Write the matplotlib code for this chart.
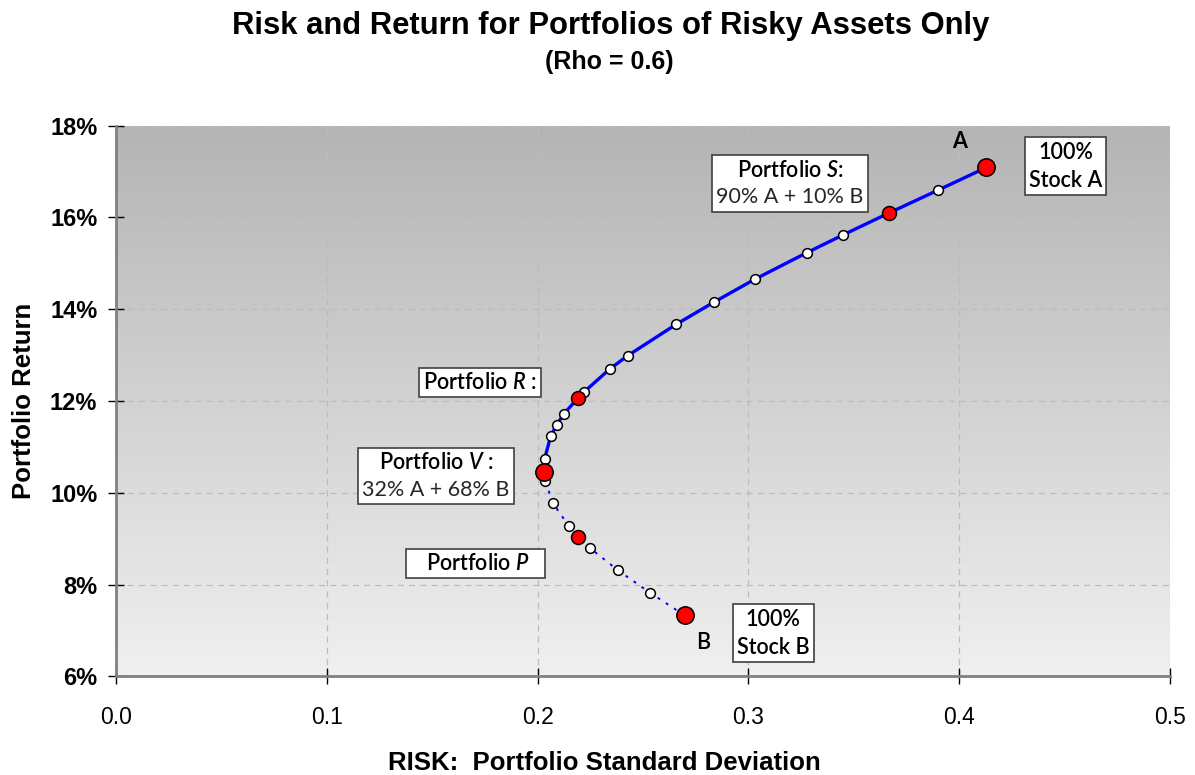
import numpy as np
import matplotlib.pyplot as plt
from matplotlib.colors import LinearSegmentedColormap
from matplotlib.offsetbox import TextArea, VPacker, AnnotationBbox
from matplotlib.ticker import FuncFormatter

plt.rcParams['mathtext.fontset'] = 'custom'
plt.rcParams['mathtext.it'] = 'Lato:italic:semibold'
plt.rcParams['mathtext.rm'] = 'Lato'

# white points on the efficient part (above V)
upper_sd = [0.2033, 0.2062, 0.2090, 0.2125, 0.2221, 0.2343, 0.2428, 0.2657,
            0.2835, 0.3029, 0.3276, 0.3449, 0.3897]
upper_ret = [10.74, 11.23, 11.48, 11.72, 12.20, 12.70, 12.99, 13.67,
             14.15, 14.65, 15.23, 15.62, 16.59]
# white points below V
lower_sd = [0.2533, 0.2381, 0.2247, 0.2147, 0.2073, 0.2036]
lower_ret = [7.82, 8.31, 8.80, 9.28, 9.77, 10.26]

# named portfolios (red)
key_names = ['A', 'S', 'R', 'V', 'P', 'B']
key_sd = [0.4129, 0.3668, 0.2190, 0.2030, 0.2193, 0.2697]
key_ret = [17.09, 16.10, 12.06, 10.46, 9.04, 7.33]
key_big = [True, False, False, True, False, True]

v_sd, v_ret = key_sd[3], key_ret[3]

fig = plt.figure(figsize=(11.95, 7.75), dpi=100)
ax = fig.add_axes([0.0971, 0.1274, 0.8820, 0.7104])

# background gradient
cmap = LinearSegmentedColormap.from_list('bg', ['#f0f0f0', '#b4b4b4'])
ax.imshow(np.linspace(0, 1, 256).reshape(-1, 1), cmap=cmap, origin='lower',
          extent=[0, 1, 0, 1], transform=ax.transAxes, aspect='auto', zorder=0)

# efficient frontier: V -> S,R,A plus white points
up_x = np.array(upper_sd + [v_sd, key_sd[0], key_sd[1], key_sd[2]])
up_y = np.array(upper_ret + [v_ret, key_ret[0], key_ret[1], key_ret[2]])
o = np.argsort(up_y)
ax.plot(up_x[o], up_y[o], color='#0000ff', lw=2.4, zorder=3)

lo_x = np.array(lower_sd + [v_sd, key_sd[4], key_sd[5]])
lo_y = np.array(lower_ret + [v_ret, key_ret[4], key_ret[5]])
o = np.argsort(lo_y)
ax.plot(lo_x[o], lo_y[o], color='#0000ff', lw=1.4, ls=(0, (1.5, 3.5)), zorder=3)

ax.plot(upper_sd + lower_sd, upper_ret + lower_ret, 'o', ms=7, mfc='white',
        mec='black', mew=1.1, ls='none', zorder=4)
for sd, r, big in zip(key_sd, key_ret, key_big):
    ax.plot(sd, r, 'o', ms=12.5 if big else 10, mfc='#ff0000', mec='black',
            mew=1.1, zorder=5)

ax.set_xlim(0, 0.5)
ax.set_ylim(6, 18)
ax.set_xticks(np.arange(0, 0.51, 0.1))
ax.set_yticks(np.arange(6, 18.1, 2))
ax.yaxis.set_major_formatter(FuncFormatter(lambda v, p: '%d%%' % v))
ax.xaxis.set_major_formatter(FuncFormatter(lambda v, p: '%.1f' % v))
ax.grid(True, color='#bcbcbc', ls=(0, (5, 4)), lw=0.9, zorder=1)
for s in ['top', 'right']:
    ax.spines[s].set_visible(False)
for s in ['left', 'bottom']:
    ax.spines[s].set_color('#808080')
    ax.spines[s].set_linewidth(2)
    ax.spines[s].set_zorder(2)
ax.tick_params(direction='inout', length=11, width=1, color='black')
ax.tick_params(axis='x', pad=16)
ax.tick_params(axis='y', pad=8)
for t in ax.get_xticklabels():
    t.set_family('Liberation Sans')
    t.set_fontsize(16.5)
for t in ax.get_yticklabels():
    t.set_family('Liberation Sans')
    t.set_fontsize(17)
    t.set_fontweight('bold')

ax.set_xlabel('RISK:  Portfolio Standard Deviation', family='Liberation Sans',
              fontsize=18.5, fontweight='bold', labelpad=12)
ax.xaxis.set_label_coords(0.463, -0.135)
ax.set_ylabel('Portfolio Return', family='Liberation Sans', fontsize=18.5,
              fontweight='bold', labelpad=10)

fig.text(0.511, 0.967, 'Risk and Return for Portfolios of Risky Assets Only',
         ha='center', va='center', family='Liberation Sans', fontsize=22.3,
         fontweight='bold')
fig.text(0.51, 0.92, '(Rho = 0.6)', ha='center', va='center',
         family='Liberation Sans', fontsize=18, fontweight='bold')

main_font = dict(family='Lato', fontsize=15.5, color='black',
                 fontweight='semibold')
sub_font = dict(family='Lato', fontsize=15.5, color='#262626')


def label_box(lines, x, y, styles):
    areas = [TextArea(t, textprops=s) for t, s in zip(lines, styles)]
    pack = VPacker(children=areas, align='center', pad=0, sep=5)
    ab = AnnotationBbox(pack, (x, y), xycoords='data', frameon=True, pad=0.3,
                        box_alignment=(0.5, 0.5),
                        bboxprops=dict(edgecolor='#404040', lw=1.2,
                                       facecolor='white'), zorder=6)
    ax.add_artist(ab)


label_box(['Portfolio $S$:', '90% A + 10% B'], 0.3197, 16.74,
          [main_font, sub_font])
label_box(['100%', 'Stock A'], 0.4504, 17.12, [main_font, main_font])
label_box(['Portfolio $R$ :'], 0.1726, 12.41, [main_font])
label_box(['Portfolio $V$ :', '32% A + 68% B'], 0.1518, 10.37,
          [main_font, sub_font])
label_box(['   Portfolio $P$   '], 0.1704, 8.46, [main_font])
label_box(['100%', 'Stock B'], 0.3117, 6.94, [main_font, main_font])

ax.text(0.400, 17.65, 'A', ha='center', va='center', family='Lato',
        fontsize=15.5, fontweight='bold', zorder=6)
ax.text(0.2787, 6.74, 'B', ha='center', va='center', family='Lato',
        fontsize=15.5, fontweight='semibold', zorder=6)

fig.savefig('out.png', dpi=100)
